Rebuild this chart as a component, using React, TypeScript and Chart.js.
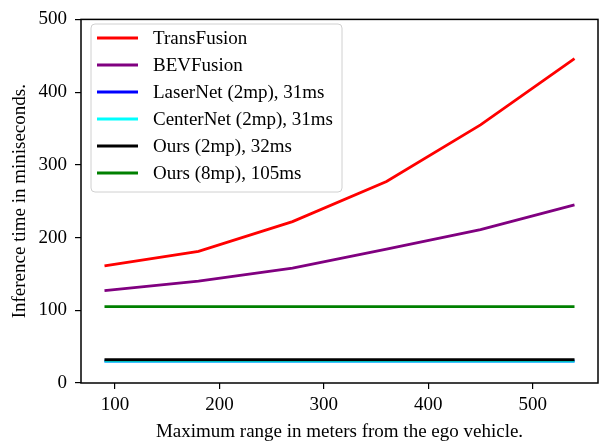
import React, { useEffect, useRef } from 'react';
import { Chart, registerables } from 'chart.js';
Chart.register(...registerables);

const FONT = '"Liberation Serif", "DejaVu Serif", serif';
const FS = 19;

const rangeMeters = [90, 180, 270, 360, 450, 540];
const transFusion = [161, 181, 222, 277, 355, 446];
const bevFusion = [127, 140, 158, 184, 211, 245];
const laserNet = [30, 30, 30, 30, 30, 30];
const centerNet = [30, 30, 30, 30, 30, 30];
const ours2mp = [32, 32, 32, 32, 32, 32];
const ours8mp = [105, 105, 105, 105, 105, 105];
const seriesLabels = [
  'TransFusion',
  'BEVFusion',
  'LaserNet (2mp), 31ms',
  'CenterNet (2mp), 31ms',
  'Ours (2mp), 32ms',
  'Ours (8mp), 105ms',
];
const seriesColors = ['#ff0000', '#800080', '#0000ff', '#00ffff', '#000000', '#008000'];
const xTicks = [100, 200, 300, 400, 500];
const yTicks = [0, 100, 200, 300, 400, 500];
const xTitle = 'Maximum range in meters from the ego vehicle.';
const yTitle = 'Inference time in miniseconds.';

const legendPlugin = {
  id: 'mplLegend',
  afterDatasetsDraw(chart: any) {
    const ctx = chart.ctx;
    const x0 = 91, y0 = 24, w = 251, h = 168, r = 4;
    ctx.save();
    ctx.beginPath();
    ctx.moveTo(x0 + r, y0);
    ctx.arcTo(x0 + w, y0, x0 + w, y0 + h, r);
    ctx.arcTo(x0 + w, y0 + h, x0, y0 + h, r);
    ctx.arcTo(x0, y0 + h, x0, y0, r);
    ctx.arcTo(x0, y0, x0 + w, y0, r);
    ctx.closePath();
    ctx.fillStyle = 'rgba(255,255,255,0.8)';
    ctx.fill();
    ctx.strokeStyle = '#d0d0d0';
    ctx.lineWidth = 1;
    ctx.stroke();
    ctx.font = `${FS}px ${FONT}`;
    ctx.textBaseline = 'middle';
    ctx.textAlign = 'left';
    seriesLabels.forEach((lab, i) => {
      const y = 38 + 27 * i;
      ctx.beginPath();
      ctx.moveTo(97, y);
      ctx.lineTo(138, y);
      ctx.strokeStyle = seriesColors[i];
      ctx.lineWidth = 2.8;
      ctx.stroke();
      ctx.fillStyle = '#000';
      ctx.fillText(lab, 153, y + 1);
    });
    ctx.restore();
  },
};

const framePlugin = {
  id: 'mplFrame',
  afterDraw(chart: any) {
    const { ctx, chartArea: a } = chart;
    ctx.save();
    ctx.strokeStyle = '#000';
    ctx.lineWidth = 1.5;
    ctx.strokeRect(a.left, a.top, a.right - a.left, a.bottom - a.top);
    ctx.fillStyle = '#000';
    ctx.font = `${FS}px ${FONT}`;
    ctx.textAlign = 'center';
    ctx.textBaseline = 'middle';
    ctx.fillText(xTitle, (a.left + a.right) / 2, 432);
    ctx.translate(20, (a.top + a.bottom) / 2);
    ctx.rotate(-Math.PI / 2);
    ctx.fillText(yTitle, 0, 0);
    ctx.restore();
  },
};

export default function App() {
  const ref = useRef<HTMLCanvasElement>(null);
  useEffect(() => {
    document.body.style.margin = '0';
    const series = [transFusion, bevFusion, laserNet, centerNet, ours2mp, ours8mp];
    const chart = new Chart(ref.current!, {
      type: 'line',
      data: {
        datasets: series.map((vals, i) => ({
          label: seriesLabels[i],
          data: rangeMeters.map((x, j) => ({ x, y: vals[j] })),
          borderColor: seriesColors[i],
          backgroundColor: seriesColors[i],
          borderWidth: 2.8,
          pointRadius: 0,
          tension: 0,
          fill: false,
          order: series.length - i,
        })),
      },
      options: {
        animation: false,
        responsive: false,
        events: [],
        layout: { padding: { top: 14, right: 1, left: 0, bottom: 0 } },
        plugins: { legend: { display: false }, tooltip: { enabled: false } },
        scales: {
          x: {
            type: 'linear',
            min: 67.5,
            max: 562.5,
            afterBuildTicks: (s: any) => {
              s.ticks = xTicks.map((v) => ({ value: v }));
            },
            afterFit: (s: any) => {
              s.height = 60;
            },
            border: { display: false },
            grid: { drawOnChartArea: false, drawTicks: true, tickLength: 6, color: '#000', lineWidth: 1.2 },
            ticks: { font: { family: FONT, size: FS }, color: '#000', padding: 5, maxRotation: 0 },
          },
          y: {
            type: 'linear',
            min: 0,
            max: 500,
            afterBuildTicks: (s: any) => {
              s.ticks = yTicks.map((v) => ({ value: v }));
            },
            afterFit: (s: any) => {
              s.width = 81;
            },
            border: { display: false },
            grid: { drawOnChartArea: false, drawTicks: true, tickLength: 6, color: '#000', lineWidth: 1.2 },
            ticks: { font: { family: FONT, size: FS }, color: '#000', padding: 8 },
          },
        },
      },
      plugins: [legendPlugin, framePlugin],
    } as any);
    return () => chart.destroy();
  }, []);
  return (
    <div style={{ width: 599, height: 443 }}>
      <canvas ref={ref} width={599} height={443} style={{ width: 599, height: 443, display: 'block' }} />
    </div>
  );
}
